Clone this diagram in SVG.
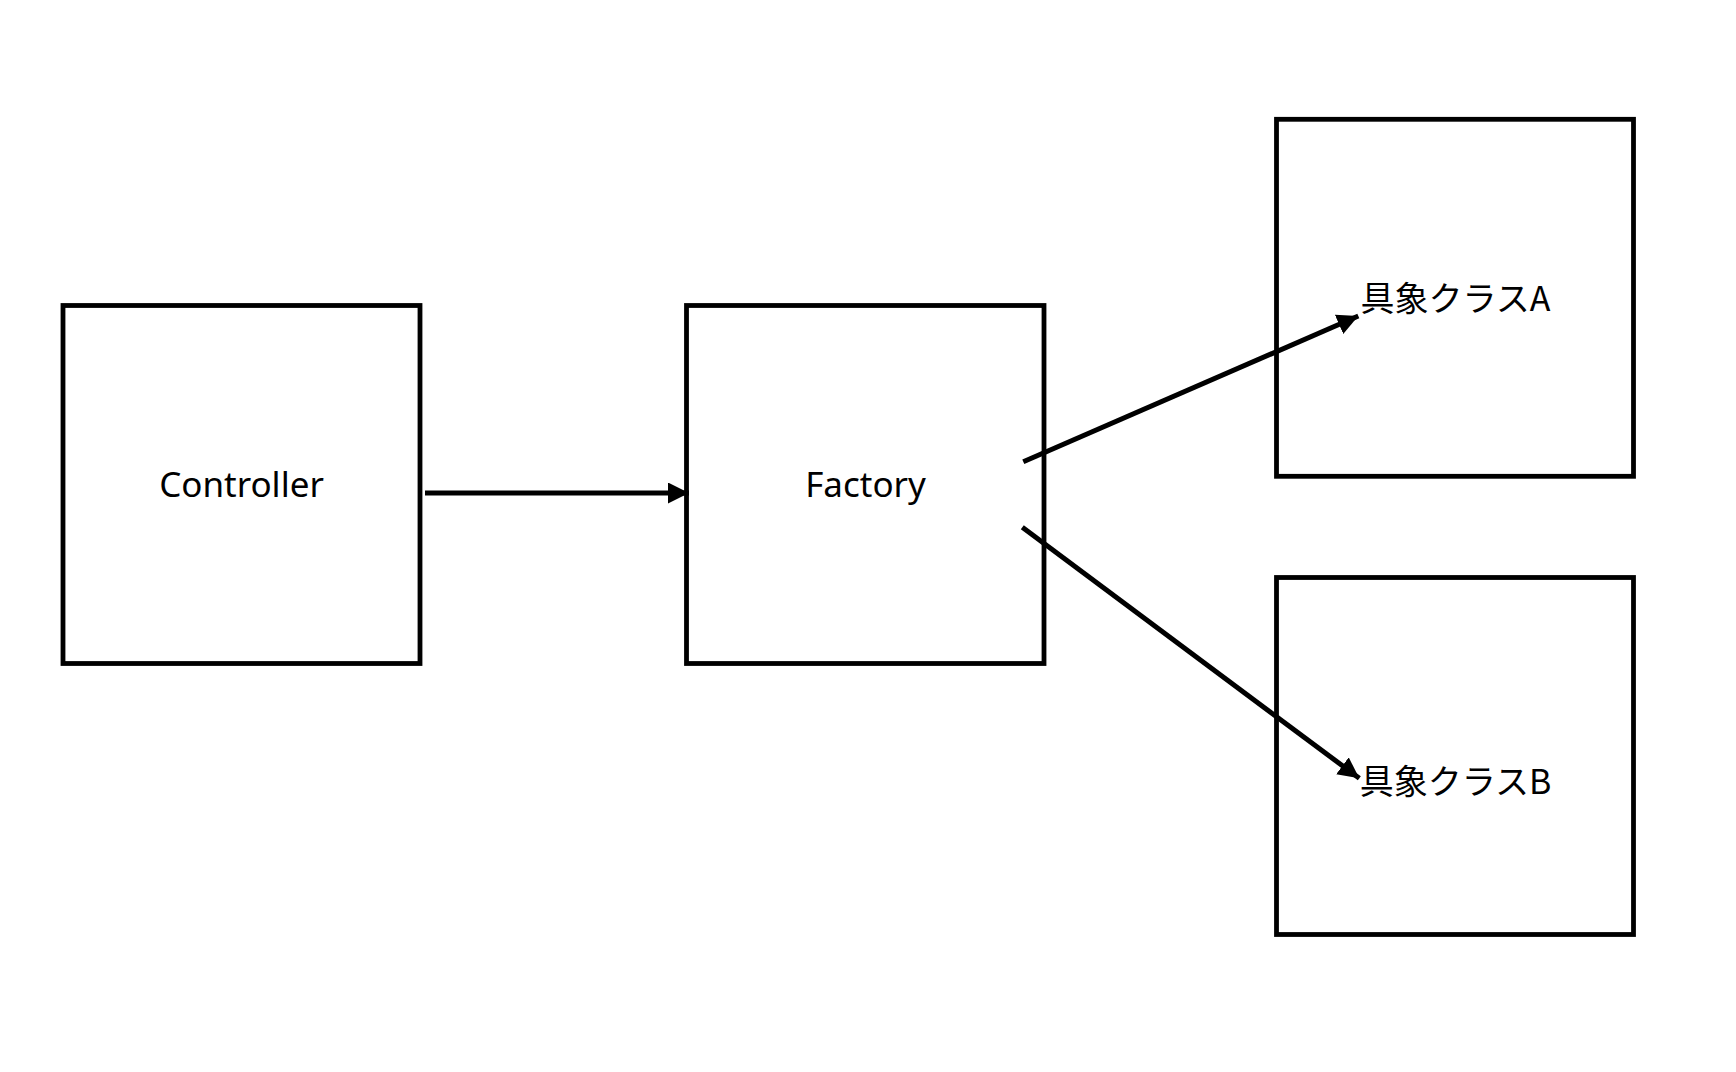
<svg xmlns="http://www.w3.org/2000/svg" width="1736" height="1072" viewBox="0 0 1736 1072">
  <style>
    .box { fill: #ffffff; stroke: #000000; stroke-width: 4.8; }
    .lbl { font-family: "Noto Sans", "Liberation Sans", sans-serif; font-size: 35px; fill: #000000; text-anchor: middle; }
    .jp { font-family: "Noto Sans CJK JP", "Noto Sans", sans-serif; font-size: 34px; fill: #000000; text-anchor: middle; }
    .edge { stroke: #000000; stroke-width: 5; fill: none; marker-end: url(#arrow); }
  </style>
  <defs>
    <marker id="arrow" markerUnits="userSpaceOnUse" markerWidth="24" markerHeight="24" refX="21" refY="10.5" orient="auto" viewBox="0 0 24 24">
      <path d="M0,0 L21,10.5 L0,21 z" fill="#000000"/>
    </marker>
  </defs>
  <rect width="1736" height="1072" fill="#ffffff"/>
  <g id="controller">
    <rect class="box" x="63" y="305.5" width="357" height="358"/>
    <text class="lbl" x="241.5" y="496.5">Controller</text>
  </g>
  <g id="factory">
    <rect class="box" x="686.5" y="305.5" width="357.5" height="358"/>
    <text class="lbl" x="865.5" y="496.5">Factory</text>
  </g>
  <g id="classA">
    <rect class="box" x="1276.5" y="119.3" width="357" height="357"/>
    <text class="jp" x="1455.5" y="311">具象クラスA</text>
  </g>
  <g id="classB">
    <rect class="box" x="1276.5" y="577.5" width="357" height="357"/>
    <text class="jp" x="1455.5" y="794">具象クラスB</text>
  </g>
  <g id="connectors">
    <line class="edge" x1="425" y1="493" x2="689" y2="493"/>
    <line class="edge" x1="1023.3" y1="461.7" x2="1358.3" y2="316"/>
    <line class="edge" x1="1022.3" y1="527.3" x2="1359.3" y2="778.3"/>
  </g>
</svg>
